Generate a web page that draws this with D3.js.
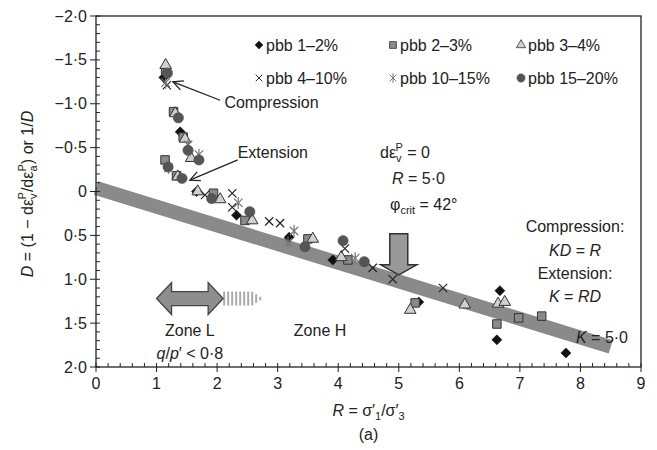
<!DOCTYPE html>
<html><head><meta charset="utf-8">
<script src="https://cdn.jsdelivr.net/npm/d3@7"></script>
<style>body{margin:0;background:#fff;} text{font-family:"Liberation Sans",Arial,sans-serif;fill:#222;}</style>
</head><body><svg id="c" width="657" height="450"></svg>
<script>
// ---- data ----
const seriesNames = ["pbb 1–2%","pbb 2–3%","pbb 3–4%","pbb 4–10%","pbb 10–15%","pbb 15–20%"];
const pbb1_2 = [[1.12,-1.30],[1.39,-0.68],[1.66,0.00],[2.32,0.27],[3.19,0.52],[3.91,0.78],[5.33,1.26],[6.67,1.13],[6.62,1.69],[7.76,1.84]];
const pbb2_3 = [[1.15,-1.38],[1.28,-0.91],[1.44,-0.62],[1.14,-0.36],[1.33,-0.18],[1.94,0.02],[2.46,0.33],[3.50,0.54],[4.16,0.78],[5.27,1.27],[6.62,1.51],[6.98,1.44],[7.36,1.42]];
const pbb3_4 = [[1.15,-1.44],[1.31,-0.89],[1.47,-0.60],[1.57,-0.38],[1.35,-0.17],[1.68,0.00],[2.05,0.09],[2.58,0.33],[3.58,0.54],[4.05,0.75],[5.19,1.35],[6.09,1.29],[6.64,1.28],[6.75,1.26]];
const pbb4_10 = [[1.17,-1.21],[1.80,0.04],[2.25,0.02],[2.25,0.18],[2.86,0.34],[3.04,0.36],[4.11,0.65],[4.57,0.87],[4.90,1.00],[5.73,1.10]];
const pbb10_15 = [[1.15,-1.24],[1.52,-0.53],[1.70,-0.42],[1.20,-0.27],[2.35,0.13],[3.27,0.45],[3.17,0.58],[4.28,0.76]];
const pbb15_20 = [[1.18,-1.35],[1.36,-0.84],[1.52,-0.47],[1.70,-0.36],[1.19,-0.28],[1.42,-0.15],[1.91,0.08],[2.54,0.23],[3.45,0.63],[4.08,0.56],[4.43,0.80]];
const xTicks = [0,1,2,3,4,5,6,7,8,9];
const yTicks = [-2,-1.5,-1,-0.5,0,0.5,1,1.5,2];
const bandLine = [[0,-0.04],[8.5,1.77]];

// ---- setup ----
const svg = d3.select("#c");
const xs = d3.scaleLinear().domain([0,9]).range([96,641]);
const ys = d3.scaleLinear().domain([-2,2]).range([16,367]);
const fmtY = d => d===0 ? "0" : d3.format(".1f")(d).replace(".", "·");

// band
svg.append("line").attr("x1",xs(bandLine[0][0])).attr("y1",ys(bandLine[0][1]))
  .attr("x2",xs(bandLine[1][0])).attr("y2",ys(bandLine[1][1]))
  .attr("stroke","#8a8a8a").attr("stroke-width",14);

// frame
svg.append("rect").attr("x",xs(0)).attr("y",ys(-2)).attr("width",xs(9)-xs(0)).attr("height",ys(2)-ys(-2))
  .attr("fill","none").attr("stroke","#222").attr("stroke-width",1.3);

// x ticks
const gx = svg.append("g");
d3.range(0,9.001,0.2).forEach(v=>{
  const major = Math.abs(v-Math.round(v))<1e-6;
  gx.append("line").attr("x1",xs(v)).attr("x2",xs(v)).attr("y1",ys(2)-4).attr("y2",ys(2)+(major?5:0)).attr("stroke","#222").attr("stroke-width",1);
});
xTicks.forEach(v=>gx.append("text").attr("x",xs(v)).attr("y",ys(2)+16).attr("dy","0.35em").attr("text-anchor","middle").attr("font-size",16).text(v));
// y ticks
const gy = svg.append("g");
d3.range(-2,2.001,0.1).forEach(v=>{
  const major = Math.abs(v*2-Math.round(v*2))<1e-6;
  gy.append("line").attr("y1",ys(v)).attr("y2",ys(v)).attr("x1",xs(0)-(major?6:0)).attr("x2",xs(0)+4).attr("stroke","#222").attr("stroke-width",1);
});
yTicks.forEach(v=>gy.append("text").attr("x",xs(0)-9).attr("y",ys(v)).attr("dy","0.35em").attr("text-anchor","end").attr("font-size",16).text(fmtY(v)));

// axis titles
const xt = svg.append("text").attr("x",(xs(0)+xs(9))/2).attr("y",416).attr("text-anchor","middle").attr("font-size",16);
xt.append("tspan").attr("font-style","italic").text("R");
xt.append("tspan").text(" = σ′");
xt.append("tspan").attr("font-size",11).attr("dy",4).text("1");
xt.append("tspan").attr("dy",-4).text("/σ′");
xt.append("tspan").attr("font-size",11).attr("dy",4).text("3");
svg.append("text").attr("x",(xs(0)+xs(9))/2).attr("y",440).attr("text-anchor","middle").attr("font-size",16).text("(a)");

const yt = svg.append("text").attr("transform","translate(33,194) rotate(-90)").attr("text-anchor","middle").attr("font-size",16);
yt.append("tspan").attr("font-style","italic").text("D");
yt.append("tspan").text(" = (1 − dε");
yt.append("tspan").attr("font-size",11).attr("dy",4).text("v");
yt.append("tspan").attr("font-size",11).attr("dy",-11).attr("dx",-6).text("P");
yt.append("tspan").attr("dy",7).text("/dε");
yt.append("tspan").attr("font-size",11).attr("dy",4).text("a");
yt.append("tspan").attr("font-size",11).attr("dy",-11).attr("dx",-6).text("P");
yt.append("tspan").attr("dy",7).text(") or 1/");
yt.append("tspan").attr("font-style","italic").text("D");

// ---- markers ----
const starPath = s => { const r=s/2, a=r*0.707; return `M${-a},${-a}L${a},${a}M${-a},${a}L${a},${-a}M0,${-r}L0,${r}`; };
const crossPath = s => { const a=s/2*0.75; return `M${-a},${-a}L${a},${a}M${-a},${a}L${a},${-a}`; };
const diamondPath = r => `M0,${-r}L${r},0L0,${r}L${-r},0Z`;
const styles = [
  {d:diamondPath(5), fill:"#111", stroke:"#111", sw:0.6},
  {d:d3.symbol(d3.symbolSquare,72)(), fill:"#8a8a8a", stroke:"#333", sw:1},
  {d:d3.symbol(d3.symbolTriangle,58)(), fill:"#d0d0d0", stroke:"#333", sw:1},
  {d:crossPath(11), fill:"none", stroke:"#222", sw:1.2},
  {d:starPath(12), fill:"none", stroke:"#777", sw:1.2},
  {d:d3.symbol(d3.symbolCircle,85)(), fill:"#555", stroke:"#555", sw:0.5}
];
const allSeries = [pbb1_2,pbb2_3,pbb3_4,pbb4_10,pbb10_15,pbb15_20];
allSeries.forEach((pts,i)=>{
  svg.append("g").selectAll("path").data(pts).join("path")
    .attr("d",styles[i].d).attr("transform",d=>`translate(${xs(d[0])},${ys(d[1])})`)
    .attr("fill",styles[i].fill).attr("stroke",styles[i].stroke).attr("stroke-width",styles[i].sw);
});

// legend
const legX = [259,393,521], legY=[45,78];
seriesNames.forEach((n,i)=>{
  const lx = legX[i%3], ly = legY[Math.floor(i/3)];
  const s = styles[i];
  svg.append("path").attr("d",s.d).attr("transform",`translate(${lx},${ly}) scale(0.8)`).attr("fill",s.fill).attr("stroke",s.stroke).attr("stroke-width",s.sw);
  svg.append("text").attr("x",lx+7).attr("y",ly).attr("dy","0.35em").attr("font-size",16).text(n);
});

// ---- annotations ----
function arrowLine(x1,y1,x2,y2){
  svg.append("line").attr("x1",x1).attr("y1",y1).attr("x2",x2).attr("y2",y2).attr("stroke","#222").attr("stroke-width",1.3);
  const ang=Math.atan2(y2-y1,x2-x1), L=11, w=0.45;
  const p=[[x2-L*Math.cos(ang-w),y2-L*Math.sin(ang-w)],[x2,y2],[x2-L*Math.cos(ang+w),y2-L*Math.sin(ang+w)]];
  svg.append("path").attr("d",d3.line()(p)).attr("fill","none").attr("stroke","#222").attr("stroke-width",1.3);
}
arrowLine(xs(2.05),ys(-1.04),xs(1.27),ys(-1.25));
svg.append("text").attr("x",xs(2.12)).attr("y",ys(-1.01)).attr("dy","0.35em").attr("font-size",16).text("Compression");
arrowLine(xs(2.34),ys(-0.36),xs(1.55),ys(-0.13));
svg.append("text").attr("x",xs(2.34)).attr("y",ys(-0.45)).attr("dy","0.35em").attr("font-size",16).text("Extension");

// dεvP = 0, R = 5·0, φcrit
const t1 = svg.append("text").attr("x",380).attr("y",ys(-0.45)).attr("dy","0.35em").attr("font-size",16);
t1.append("tspan").text("dε");
t1.append("tspan").attr("font-size",11).attr("dy",4).text("v");
t1.append("tspan").attr("font-size",11).attr("dy",-11).attr("dx",-6).text("P");
t1.append("tspan").attr("dy",7).text(" = 0");
const t2 = svg.append("text").attr("x",392).attr("y",ys(-0.15)).attr("dy","0.35em").attr("font-size",16);
t2.append("tspan").attr("font-style","italic").text("R");
t2.append("tspan").text(" = 5·0");
const t3 = svg.append("text").attr("x",390).attr("y",ys(0.15)).attr("dy","0.35em").attr("font-size",16);
t3.append("tspan").text("φ");
t3.append("tspan").attr("font-size",11).attr("dy",4).text("crit");
t3.append("tspan").attr("dy",-4).text(" = 42°");

// big down arrow at R=5
{
  const tx=xs(5.0), ty=ys(0.95);
  const p=[[tx-9,ty-41],[tx+9,ty-41],[tx+9,ty-10],[tx+18,ty-10],[tx,ty],[tx-18,ty-10],[tx-9,ty-10]];
  svg.append("path").attr("d",d3.line()(p)+"Z").attr("fill","#999").attr("stroke","#333").attr("stroke-width",1.5);
}

// right annotations
const rx = 575;
[["Compression:",ys(0.4)],["Extension:",ys(0.93)]].forEach(([t,y])=>svg.append("text").attr("x",rx).attr("y",y).attr("dy","0.35em").attr("text-anchor","middle").attr("font-size",16).text(t));
{
  const a = svg.append("text").attr("x",rx).attr("y",ys(0.67)).attr("dy","0.35em").attr("text-anchor","middle").attr("font-size",16);
  a.append("tspan").attr("font-style","italic").text("KD");
  a.append("tspan").text(" = ");
  a.append("tspan").attr("font-style","italic").text("R");
  const b = svg.append("text").attr("x",rx).attr("y",ys(1.19)).attr("dy","0.35em").attr("text-anchor","middle").attr("font-size",16);
  b.append("tspan").attr("font-style","italic").text("K");
  b.append("tspan").text(" = ");
  b.append("tspan").attr("font-style","italic").text("RD");
  const c = svg.append("text").attr("x",602).attr("y",ys(1.66)).attr("dy","0.35em").attr("text-anchor","middle").attr("font-size",16);
  c.append("tspan").attr("font-style","italic").text("K");
  c.append("tspan").text(" = 5·0");
}

// Zone L double arrow + striped extension
{
  const x1=xs(1.0), x2=xs(2.1), cy=ys(1.22);
  const hw=15, sh=7, hh=16;
  const p=[[x1,cy],[x1+hw,cy-hh],[x1+hw,cy-sh],[x2-hw,cy-sh],[x2-hw,cy-hh],[x2,cy],[x2-hw,cy+hh],[x2-hw,cy+sh],[x1+hw,cy+sh],[x1+hw,cy+hh]];
  for(let sx=x2+1; sx<=x2+37; sx+=4){
    let h = sx < x2+28 ? sh : sh*(1-(sx-(x2+28))/11)+0.5;
    svg.append("line").attr("x1",sx).attr("x2",sx).attr("y1",cy-h).attr("y2",cy+h).attr("stroke","#aaa").attr("stroke-width",2);
  }
  svg.append("path").attr("d",d3.line()(p)+"Z").attr("fill","#8e8e8e").attr("stroke","#444").attr("stroke-width",1.3);
}
svg.append("text").attr("x",xs(1.55)).attr("y",ys(1.58)).attr("dy","0.35em").attr("text-anchor","middle").attr("font-size",16).text("Zone L");
{
  const q = svg.append("text").attr("x",xs(1.55)).attr("y",ys(1.85)).attr("dy","0.35em").attr("text-anchor","middle").attr("font-size",16);
  q.append("tspan").attr("font-style","italic").text("q");
  q.append("tspan").text("/");
  q.append("tspan").attr("font-style","italic").text("p");
  q.append("tspan").text("′ < 0·8");
}
svg.append("text").attr("x",xs(3.7)).attr("y",ys(1.58)).attr("dy","0.35em").attr("text-anchor","middle").attr("font-size",16).text("Zone H");
</script></body></html>
